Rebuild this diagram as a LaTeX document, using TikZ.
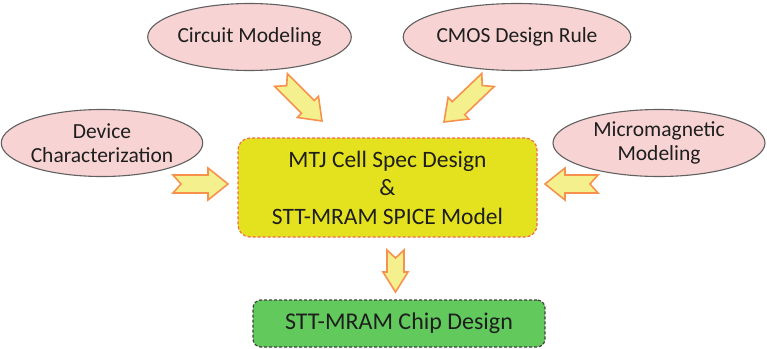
\documentclass[tikz,border=0pt]{standalone}
\usepackage{fontspec}
\setmainfont{Carlito}
\usetikzlibrary{shapes.geometric,calc}

\definecolor{pinkfill}{HTML}{F8D3D3}
\definecolor{ellline}{HTML}{606060}
\definecolor{specfill}{HTML}{E4E21E}
\definecolor{specline}{HTML}{F26A50}
\definecolor{chipfill}{HTML}{62C95C}
\definecolor{chipline}{HTML}{404040}
\definecolor{arrfill}{HTML}{F4F08E}
\definecolor{arrline}{HTML}{F7924E}
\definecolor{txt}{HTML}{1E1E1E}

\tikzset{
  topic/.style={ellipse, draw=ellline, line width=1.1pt, fill=pinkfill,
    inner sep=0pt, minimum height=67pt, align=center, text=txt,
    font=\fontsize{21.5}{26}\selectfont},
  specbox/.style={rectangle, rounded corners=12pt, draw=specline,
    dash pattern=on 3pt off 2pt, line width=1.2pt, fill=specfill,
    minimum width=299pt, minimum height=99pt, inner sep=0pt, align=center,
    text=txt, font=\fontsize{23.5}{28.5}\selectfont},
  chipbox/.style={rectangle, rounded corners=8pt, draw=chipline,
    dash pattern=on 3pt off 2pt, line width=1.2pt, fill=chipfill,
    minimum width=292pt, minimum height=47pt, inner sep=0pt,
    text=txt, font=\fontsize{24}{28}\selectfont},
  fatarrow/.style={draw=arrline, fill=arrfill, line width=1.6pt, line join=miter},
}

% notched block arrow from #1 to #2, head half-width #3, body half-width #4
\newcommand\blockarrow[4]{%
  \path let \p1=($(#2)-(#1)$) in
    \pgfextra{\pgfmathsetmacro\arrangtmp{atan2(\y1,\x1)}%
              \pgfmathsetmacro\arrlentmp{veclen(\x1,\y1)}%
              \xdef\arrang{\arrangtmp}\xdef\arrlen{\arrlentmp}};
  \begin{scope}[shift={(#1)}, rotate=\arrang, x=1pt, y=1pt]
    \draw[fatarrow] (0,#4) -- ({\arrlen-20},#4) -- ({\arrlen-20},#3)
      -- (\arrlen,0) -- ({\arrlen-20},-#3) -- ({\arrlen-20},-#4)
      -- (0,-#4) -- (8,0) -- cycle;
  \end{scope}}

\begin{document}
\begin{tikzpicture}[x=1pt, y=-1pt]
  \useasboundingbox (0,0) rectangle (767,348);

  % input topics
  \node[topic, minimum width=195pt] (circ) at (249.5,37) {Circuit Modeling};
  \node[topic, minimum width=191pt] (cmos) at (517,37) {CMOS Design Rule};
  \node[topic, minimum width=195pt] (dev) at (102,143) {Device\\[-2pt]Characterization};
  \node[topic, minimum width=212pt] (micro) at (659,143) {Micromagnetic\\[-2pt]Modeling};

  % central design and result
  \node[specbox] (spec) at (387.5,187.5) {MTJ Cell Spec Design\\ \&\\ STT-MRAM SPICE Model};
  \node[chipbox] (chip) at (399,323.5) {STT-MRAM Chip Design};

  % arrow ends
  \coordinate (a1s) at (281,80);  \coordinate (a1e) at (322,121);
  \coordinate (a2s) at (488,80);  \coordinate (a2e) at (444,122);
  \coordinate (a3s) at (173,184); \coordinate (a3e) at (228,184);
  \coordinate (a4s) at (598,184); \coordinate (a4e) at (545,184);
  \coordinate (a5s) at (395.5,250); \coordinate (a5e) at (395.5,292);

  \blockarrow{a1s}{a1e}{15}{9}
  \blockarrow{a2s}{a2e}{15}{9}
  \blockarrow{a3s}{a3e}{16}{9}
  \blockarrow{a4s}{a4e}{16}{9}
  \blockarrow{a5s}{a5e}{12.5}{8.5}
\end{tikzpicture}
\end{document}
